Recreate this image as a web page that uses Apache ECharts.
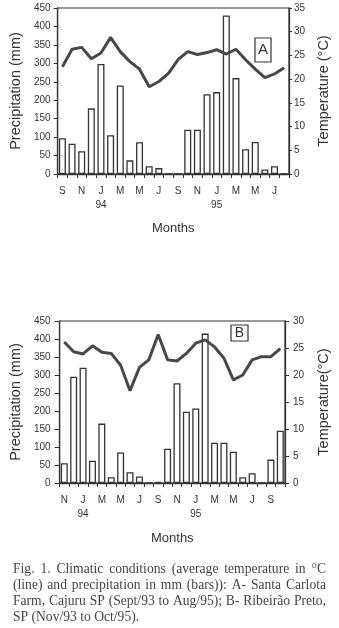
<!DOCTYPE html>
<html><head><meta charset="utf-8">
<script src="https://cdn.jsdelivr.net/npm/echarts@6/dist/echarts.min.js"></script>
<style>html,body{margin:0;padding:0;background:#fff}#c{width:339px;height:628px}</style>
</head><body><div id="c"></div>
<script>
const monthsA = ['S','O','N','D','J','F','M','A','M','J','J','A','S','O','N','D','J','F','M','A','M','J','J','A'];
const yearsA  = ['','','','','94','','','','','','','','','','','','95','','','','','','',''];
const precipA = [97,82,62,178,298,105,240,37,86,21,16,0,0,120,120,216,222,430,260,67,87,12,21,0];
const tempA   = [22.6,26.3,26.7,24.3,25.5,28.8,25.8,23.7,22.1,18.4,19.5,21.2,24.1,25.8,25.2,25.6,26.2,25.3,26.3,24.1,22.1,20.3,21.1,22.4];

const monthsB = ['N','D','J','F','M','A','M','J','J','A','S','O','N','D','J','F','M','A','M','J','J','A','S','O'];
const yearsB  = ['','','94','','','','','','','','','','','','95','','','','','','','','',''];
const precipB = [55,295,320,62,165,16,85,30,18,0,3,95,277,198,207,415,112,112,87,16,27,0,65,145];
const tempB   = [26.1,24.3,23.9,25.4,24.2,24.0,21.8,17.1,21.4,22.8,27.5,22.8,22.6,24.0,25.9,26.5,25.2,23.1,19.1,20.0,22.8,23.4,23.4,24.9];

const captionLines = [
  'Fig. 1. Climatic conditions (average temperature in °C',
  '(line) and precipitation in mm (bars)): A- Santa Carlota',
  'Farm, Cajuru SP (Sept/93 to Aug/95); B- Ribeirão Preto,',
  'SP (Nov/93 to Oct/95).'
];

const INK = '#333';
const FONT = '"Liberation Sans", Arial, sans-serif';

function yAx(grid, max, interval, pos, name, gap, tickLen, margin) {
  return {
    type: 'value', gridIndex: grid, min: 0, max: max, interval: interval, position: pos,
    name: name, nameLocation: 'middle', nameGap: gap,
    nameTextStyle: {fontSize: 14.5, color: INK, fontFamily: FONT},
    axisLine: {show: true, lineStyle: {color: INK, width: 1.3}},
    axisTick: {show: true, length: tickLen, lineStyle: {color: INK, width: 1}},
    axisLabel: {fontSize: 10, color: INK, margin: margin, fontFamily: FONT},
    splitLine: {show: false}
  };
}
function xMonths(grid, data) {
  return {
    type: 'category', gridIndex: grid, data: data, boundaryGap: true,
    axisLine: {show: true, lineStyle: {color: INK, width: 1.3}},
    axisTick: {show: true, interval: 0, alignWithLabel: false, length: 4, lineStyle: {color: INK}},
    axisLabel: {interval: 1, fontSize: 10, color: INK, margin: 12, fontFamily: FONT},
    splitLine: {show: false}
  };
}
function xYears(grid, data, gap) {
  return {
    type: 'category', gridIndex: grid, data: data, position: 'bottom', offset: 15,
    axisLine: {show: false}, axisTick: {show: false},
    axisLabel: {interval: 0, fontSize: 10, color: INK, margin: 11, fontFamily: FONT},
    name: 'Months', nameLocation: 'middle', nameGap: gap,
    nameTextStyle: {fontSize: 13, color: INK, fontFamily: FONT},
    splitLine: {show: false}
  };
}
function barS(xi, yi, data) {
  return {type: 'bar', xAxisIndex: xi, yAxisIndex: yi, data: data, barWidth: 7,
    itemStyle: {color: '#fff', borderColor: INK, borderWidth: 1.3}, z: 2};
}
function lineS(xi, yi, data) {
  return {type: 'line', xAxisIndex: xi, yAxisIndex: yi, data: data, symbol: 'none',
    lineStyle: {color: '#484848', width: 3}, z: 3};
}

// caption, justified word by word
const ctx = document.createElement('canvas').getContext('2d');
const capSize = 13.6;
ctx.font = capSize + 'px "Liberation Serif"';
const graphics = [
  {type: 'rect', shape: {x: 255, y: 38, width: 16, height: 24}, style: {fill: 'none', stroke: INK, lineWidth: 1.2}},
  {type: 'text', x: 263, y: 50, style: {text: 'A', fontSize: 15, fontFamily: FONT, fill: INK, align: 'center', verticalAlign: 'middle'}},
  {type: 'rect', shape: {x: 231, y: 325, width: 17, height: 16}, style: {fill: 'none', stroke: INK, lineWidth: 1.2}},
  {type: 'text', x: 239.5, y: 333, style: {text: 'B', fontSize: 14, fontFamily: FONT, fill: INK, align: 'center', verticalAlign: 'middle'}}
];
captionLines.forEach(function (line, li) {
  const words = line.split(' ');
  const widths = words.map(function (w) { return ctx.measureText(w).width; });
  const total = widths.reduce(function (a, b) { return a + b; }, 0);
  let gap = li < 3 ? (313 - total) / (words.length - 1) : ctx.measureText(' ').width;
  let sx = 1;
  if (gap < 2.5) { gap = 2.5; sx = (313 - gap * (words.length - 1)) / total; }
  let x = 13;
  const y = 569 + li * 16.3;
  words.forEach(function (w, i) {
    graphics.push({type: 'text', x: x, y: y, scaleX: sx, style: {text: w, fontSize: capSize, fontFamily: '"Liberation Serif", serif', fill: '#444', verticalAlign: 'middle'}});
    x += widths[i] * sx + gap;
  });
});

const chart = echarts.init(document.getElementById('c'), null, {renderer: 'canvas'});
chart.setOption({
  animation: false,
  backgroundColor: '#fff',
  grid: [
    {left: 52, top: 8, width: 239, height: 166, show: true, borderColor: INK, borderWidth: 1.2, backgroundColor: 'transparent'},
    {left: 50, top: 321, width: 241, height: 162, show: true, borderColor: INK, borderWidth: 1.2, backgroundColor: 'transparent'}
  ],
  xAxis: [xMonths(0, monthsA), xYears(0, yearsA, 33), xMonths(1, monthsB), xYears(1, yearsB, 34)],
  yAxis: [
    yAx(0, 450, 50, 'left', 'Precipitation (mm)', 26, 4, 7),
    yAx(0, 35, 5, 'right', 'Temperature (°C)', 25, 3, 5),
    yAx(1, 450, 50, 'left', 'Precipitation (mm)', 32, 5, 9),
    yAx(1, 30, 5, 'right', 'Temperature(°C)', 31, 4, 8)
  ],
  series: [barS(0, 0, precipA), lineS(0, 1, tempA), barS(2, 2, precipB), lineS(2, 3, tempB)],
  graphic: graphics
});
</script></body></html>
